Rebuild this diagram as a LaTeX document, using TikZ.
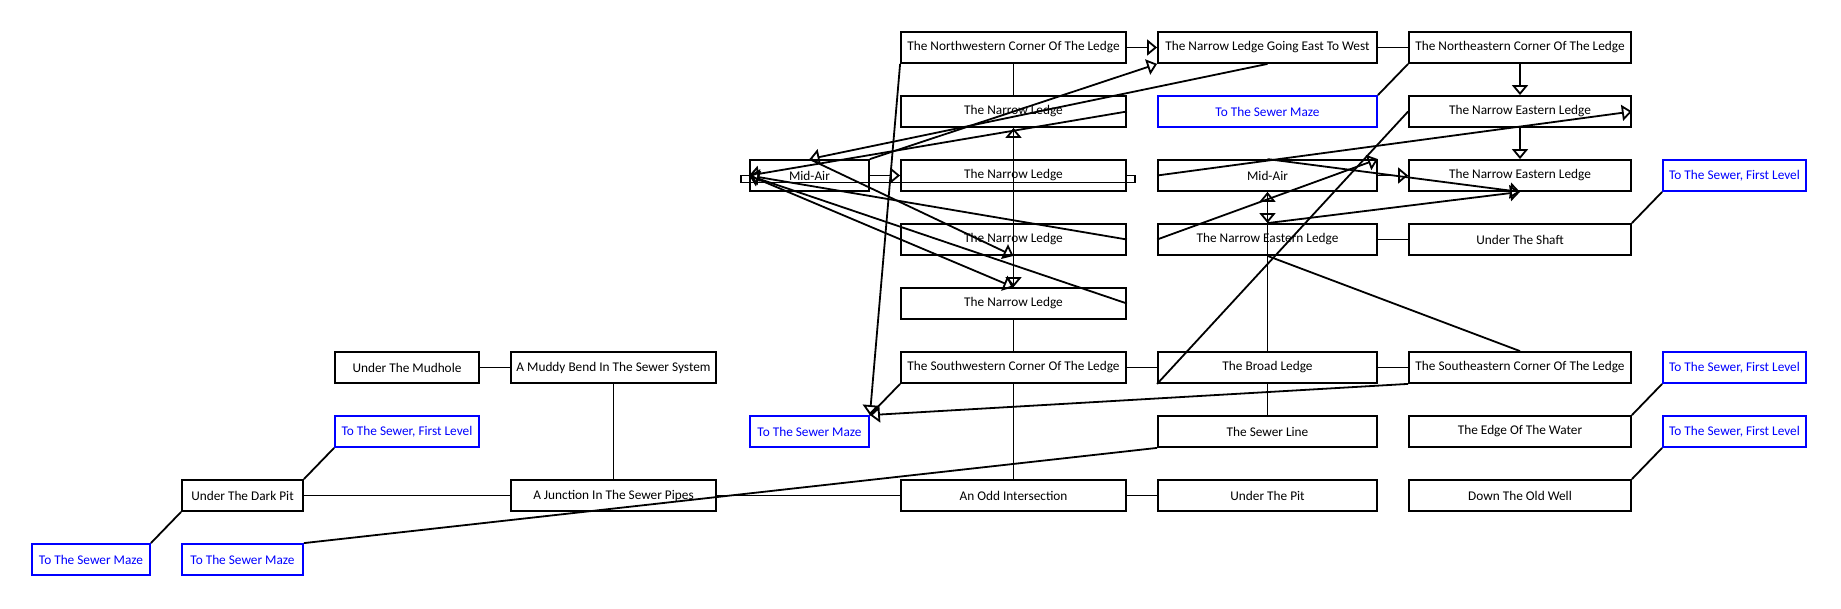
\documentclass[tikz,border=0pt]{standalone}
\usepackage{fontspec}
\setmainfont{Carlito}
\usetikzlibrary{arrows.meta, positioning}
\definecolor{exitblue}{RGB}{0,0,255}
\tikzset{
  room/.style={rectangle, draw, line width=1.8pt, fill=white,
               minimum height=31pt, inner sep=0pt,
               font=\fontsize{13.3}{15}\selectfont},
  exit/.style={room, draw=exitblue, text=exitblue},
  link/.style={line width=1.8pt},
  oneway/.style={link, -{Triangle[open, length=10pt, width=16pt]}},
}

\begin{document}
\begin{tikzpicture}[x=1pt, y=-1pt]
  \useasboundingbox[fill=white] (0,0) rectangle (1841,608);
  \def\WA{118pt}\def\WB{121pt}\def\WBa{144pt}\def\WBb{205pt}
  \def\WC{119pt}\def\WD{225pt}\def\WE{219pt}\def\WF{222pt}\def\WG{143pt}
  % top rows
  \node[room, minimum width=\WD] (nwcorner) at (1013.5,47.5) {The Northwestern Corner Of The Ledge};
  \node[room, minimum width=\WE] (eastwest) at (1267.5,47.5) {The Narrow Ledge Going East To West};
  \node[room, minimum width=\WF] (necorner) at (1520,47.5) {The Northeastern Corner Of The Ledge};
  \node[room, minimum width=\WD] (ledgeB) at (1013.5,111.5) {The Narrow Ledge};
  \node[exit, minimum width=\WE] (mazeE) at (1267.5,111.5) {To The Sewer Maze};
  \node[room, minimum width=\WF] (eastledgeA) at (1520,111.5) {The Narrow Eastern Ledge};
  \node[room, minimum width=\WC] (midairW) at (809.5,175.5) {Mid-Air};
  \node[room, minimum width=\WD] (ledgeC) at (1013.5,175.5) {The Narrow Ledge};
  \node[room, minimum width=\WE] (midairE) at (1267.5,175.5) {Mid-Air};
  \node[room, minimum width=\WF] (eastledgeB) at (1520,175.5) {The Narrow Eastern Ledge};
  \node[exit, minimum width=\WG] (firstG3) at (1734.5,175.5) {To The Sewer, First Level};
  \node[room, minimum width=\WD] (ledgeD) at (1013.5,239.5) {The Narrow Ledge};
  \node[room, minimum width=\WE] (eastledgeC) at (1267.5,239.5) {The Narrow Eastern Ledge};
  \node[room, minimum width=\WF] (shaft) at (1520,239.5) {Under The Shaft};
  \node[room, minimum width=\WD] (ledgeE) at (1013.5,303.5) {The Narrow Ledge};
  % lower rows
  \node[room, minimum width=\WBa] (mudhole) at (407,367.5) {Under The Mudhole};
  \node[room, minimum width=\WBb] (muddybend) at (613.5,367.5) {A Muddy Bend In The Sewer System};
  \node[room, minimum width=\WD] (swcorner) at (1013.5,367.5) {The Southwestern Corner Of The Ledge};
  \node[room, minimum width=\WE] (broad) at (1267.5,367.5) {The Broad Ledge};
  \node[room, minimum width=\WF] (secorner) at (1520,367.5) {The Southeastern Corner Of The Ledge};
  \node[exit, minimum width=\WG] (firstG6) at (1734.5,367.5) {To The Sewer, First Level};
  \node[exit, minimum width=\WBa] (firstL) at (407,431.5) {To The Sewer, First Level};
  \node[exit, minimum width=\WC] (mazeC) at (809.5,431.5) {To The Sewer Maze};
  \node[room, minimum width=\WE] (sewerline) at (1267.5,431.5) {The Sewer Line};
  \node[room, minimum width=\WF] (water) at (1520,431.5) {The Edge Of The Water};
  \node[exit, minimum width=\WG] (firstG7) at (1734.5,431.5) {To The Sewer, First Level};
  \node[room, minimum width=\WB] (darkpit) at (242.5,495.5) {Under The Dark Pit};
  \node[room, minimum width=\WBb] (junction) at (613.5,495.5) {A Junction In The Sewer Pipes};
  \node[room, minimum width=\WD] (oddint) at (1013.5,495.5) {An Odd Intersection};
  \node[room, minimum width=\WE] (underpit) at (1267.5,495.5) {Under The Pit};
  \node[room, minimum width=\WF] (oldwell) at (1520,495.5) {Down The Old Well};
  \node[exit, minimum width=\WA] (mazeA) at (91,559.5) {To The Sewer Maze};
  \node[exit, minimum width=\WB] (mazeB) at (242.5,559.5) {To The Sewer Maze};

  % two-way links
  \draw[link] (mudhole.east) -- (muddybend.west);
  \draw[link] (muddybend.south) -- (junction.north);
  \draw[link] (darkpit.east) -- (junction.west);
  \draw[link] (junction.east) -- (oddint.west);
  \draw[link] (oddint.east) -- (underpit.west);
  \draw[link] (darkpit.north east) -- (firstL.south west);
  \draw[link] (darkpit.south west) -- (mazeA.north east);
  \draw[link] (sewerline.south west) -- (mazeB.north east);
  \draw[link] (swcorner.south) -- (oddint.north);
  \draw[link] (ledgeE.south) -- (swcorner.north);
  \draw[link] (swcorner.east) -- (broad.west);
  \draw[link] (broad.east) -- (secorner.west);
  \draw[link] (broad.south) -- (sewerline.north);
  \draw[link] (water.north east) -- (firstG6.south west);
  \draw[link] (oldwell.north east) -- (firstG7.south west);
  \draw[link] (eastledgeC.east) -- (shaft.west);
  \draw[link] (shaft.north east) -- (firstG3.south west);
  \draw[link] (eastledgeC.south) -- (secorner.north);
  \draw[link] (nwcorner.south) -- (ledgeB.north);
  \draw[link] (eastwest.east) -- (necorner.west);
  \draw[link] (necorner.south west) -- (mazeE.north east);
  \draw[link] (broad.south west) -- (eastledgeA.west);
  \draw[link] (swcorner.south west) -- (mazeC.north east);
  \draw[link] (midairW.west) -- ++(-8,0) -- ++(0,7)
    -- ([shift={(8,7)}]ledgeC.east) -- ([xshift=8pt]ledgeC.east) -- (ledgeC.east);

  % one-way links
  \draw[oneway] (nwcorner.east) -- (eastwest.west);
  \draw[oneway] (midairW.north east) -- (eastwest.south west);
  \draw[oneway] (eastwest.south) -- (midairW.north);
  \draw[oneway] (ledgeB.east) -- (midairW.west);
  \draw[oneway] (midairW.east) -- (ledgeC.west);
  \draw[oneway] (ledgeD.east) -- (midairW.west);
  \draw[oneway] (ledgeE.east) -- (midairW.west);
  \draw[oneway] (midairW.west) -- (ledgeE.north);
  \draw[oneway] (midairW.north) -- (ledgeD.south);
  \draw[oneway] (ledgeE.north) -- (ledgeB.south);
  \draw[oneway] (ledgeB.south) -- (ledgeE.north);
  \draw[oneway] (necorner.south) -- (eastledgeA.north);
  \draw[oneway] (eastledgeA.south) -- (eastledgeB.north);
  \draw[oneway] (midairE.west) -- (eastledgeA.east);
  \draw[oneway] (eastledgeC.west) -- (midairE.north east);
  \draw[oneway] (midairE.east) -- (eastledgeB.west);
  \draw[oneway] (midairE.north) -- (eastledgeB.south);
  \draw[oneway] (eastledgeC.north) -- (eastledgeB.south);
  \draw[oneway] (broad.north) -- (midairE.south);
  \draw[oneway] (midairE.south) -- (eastledgeC.north);
  \draw[oneway] (nwcorner.south west) -- (mazeC.north east);
  \draw[oneway] (secorner.south west) -- (mazeC.north east);
\end{tikzpicture}
\end{document}
